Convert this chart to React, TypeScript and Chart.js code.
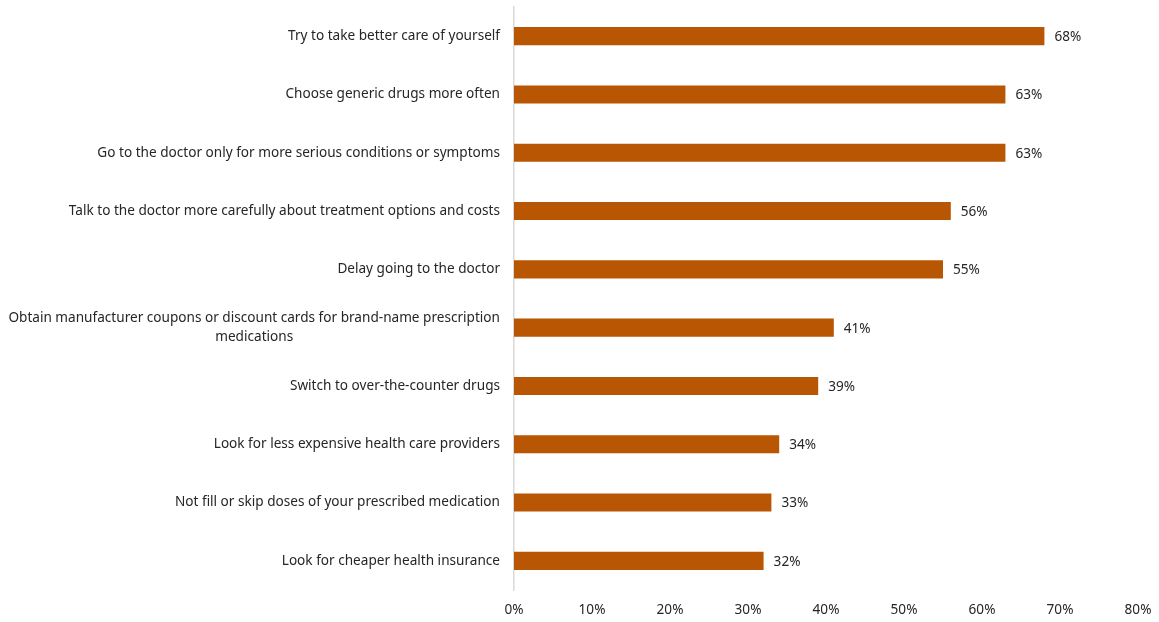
import React, { useEffect, useRef } from "react";
import { Chart, registerables } from "chart.js";

Chart.register(...registerables);

const categories: (string | string[])[] = [
  "Try to take better care of yourself",
  "Choose generic drugs more often",
  "Go to the doctor only for more serious conditions or symptoms",
  "Talk to the doctor more carefully about treatment options and costs",
  "Delay going to the doctor",
  ["Obtain manufacturer coupons or discount cards for brand-name prescription", "medications"],
  "Switch to over-the-counter drugs",
  "Look for less expensive health care providers",
  "Not fill or skip doses of your prescribed medication",
  "Look for cheaper health insurance",
];
const values = [68, 63, 63, 56, 55, 41, 39, 34, 33, 32];
const xTicks = [0, 10, 20, 30, 40, 50, 60, 70, 80];

const FONT = "'Noto Sans', sans-serif";
const FONT_SIZE = 13.6;
const TEXT_COLOR = "#262626";
const BAR_COLOR = "#B85604";

export default function App() {
  const ref = useRef<HTMLCanvasElement>(null);
  useEffect(() => {
    if (!ref.current) return;
    const labelPlugin = {
      id: "customLabels",
      afterDraw(chart: any) {
        const ctx = chart.ctx;
        const y = chart.scales.y;
        const x = chart.scales.x;
        ctx.save();
        ctx.font = `${FONT_SIZE}px ${FONT}`;
        ctx.fillStyle = TEXT_COLOR;
        ctx.textBaseline = "middle";
        const lh = 19;
        categories.forEach((cat, i) => {
          const cy = y.getPixelForValue(i);
          const lines = Array.isArray(cat) ? cat : [cat];
          const rightX = y.right - 14;
          const widths = lines.map((l) => ctx.measureText(l).width);
          const maxW = Math.max(...widths);
          const cx = rightX - maxW / 2;
          lines.forEach((l, j) => {
            const ly = cy + (j - (lines.length - 1) / 2) * lh;
            ctx.textAlign = "center";
            ctx.fillText(l, cx, ly);
          });
        });
        ctx.textAlign = "center";
        xTicks.forEach((v) => {
          ctx.fillText(v + "%", x.getPixelForValue(v), y.bottom + 20);
        });
        const meta = chart.getDatasetMeta(0);
        ctx.textAlign = "left";
        meta.data.forEach((bar: any, i: number) => {
          ctx.fillText(values[i] + "%", bar.x + 10, bar.y + 1);
        });
        ctx.restore();
      },
    };
    const chart = new Chart(ref.current, {
      type: "bar",
      data: {
        labels: categories.map((c) => (Array.isArray(c) ? c.join(" ") : c)),
        datasets: [
          {
            data: values,
            backgroundColor: BAR_COLOR,
            barPercentage: 0.31,
            categoryPercentage: 1,
          },
        ],
      },
      options: {
        indexAxis: "y",
        animation: false,
        responsive: true,
        maintainAspectRatio: false,
        layout: { padding: { top: 7, right: 21, left: 0, bottom: 0 } },
        plugins: { legend: { display: false }, tooltip: { enabled: false } },
        scales: {
          x: {
            min: 0,
            max: 80,
            grid: { display: false, drawTicks: false },
            border: { display: false },
            ticks: { display: false },
            afterFit(scale: any) {
              scale.height = 32;
            },
          },
          y: {
            grid: { display: false, drawTicks: false },
            border: { display: true, color: "#D9D9D9", width: 1.5 },
            ticks: { display: false },
            afterFit(scale: any) {
              scale.width = 514;
            },
          },
        },
      },
      plugins: [labelPlugin],
    });
    return () => chart.destroy();
  }, []);
  return (
    <div style={{ position: "fixed", left: 0, top: 0, width: 1159, height: 622, background: "#fff" }}>
      <canvas ref={ref} />
    </div>
  );
}
